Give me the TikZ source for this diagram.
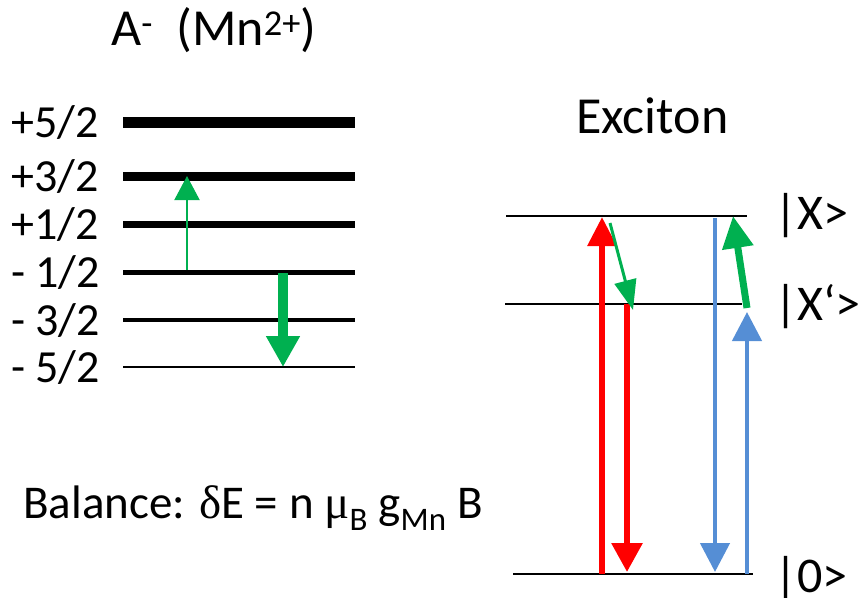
\documentclass[tikz,border=0pt]{standalone}
\usepackage{fontspec}
\setmainfont{Carlito}
\newfontfamily\grk{Liberation Serif}
\usetikzlibrary{arrows.meta}
\definecolor{ogreen}{RGB}{0,176,80}
\definecolor{oblue}{RGB}{85,142,213}
\tikzset{
  lvl/.style={draw=black},
  lbl/.style={anchor=base west,inner sep=0pt,font=\fontsize{46}{46}\selectfont},
  big/.style={anchor=base west,inner sep=0pt,font=\fontsize{52}{52}\selectfont},
  st/.style={anchor=base west,inner sep=0pt,font=\fontsize{50}{50}\selectfont},
  tip/.style n args={2}{-{Triangle[width=#1pt,length=#2pt]}}
}
\begin{document}
\begin{tikzpicture}[x=1pt,y=-1pt]
\useasboundingbox (0,0) rectangle (858,597);
% title
\node[big] (title) at (111,45) {A\textsuperscript{-}\hspace{0.45em}(Mn\textsuperscript{2+})};
% Mn levels
\foreach \nm/\yy/\lw/\tx in {l5/122/11/{+5/2}, l3/176/9/{+3/2}, l1/224/7/{+1/2}, m1/272/5/{- 1/2}, m3/320/3.5/{- 3/2}, m5/367/1.5/{- 5/2}}{
  \coordinate (\nm a) at (123,\yy);
  \coordinate (\nm b) at (355,\yy);
  \draw[lvl,line width=\lw pt] (\nm a) -- (\nm b);
  \node[lbl] (\nm t) at (11,\yy+15) {\tx};
}
% Mn arrows
\coordinate (g1s) at (187,270); \coordinate (g1e) at (187,176);
\coordinate (g2s) at (283,273); \coordinate (g2e) at (283,367);
\draw[ogreen,line width=2pt,tip={25}{24}] (g1s) -- (g1e);
\draw[ogreen,line width=10pt,tip={32}{31}] (g2s) -- (g2e);
% exciton
\node[big] (exc) at (576,133) {Exciton};
\coordinate (xa) at (506,216); \coordinate (xb) at (747,216);
\coordinate (ya) at (505,304); \coordinate (yb) at (742,304);
\coordinate (za) at (513,574); \coordinate (zb) at (753,574);
\draw[line width=2pt] (xa) -- (xb);
\draw[line width=2pt] (ya) -- (yb);
\draw[line width=2.5pt] (za) -- (zb);
\node[st] (xl) at (774,229) {|X>};
\node[st] (yl) at (774,320) {|X‘>};
\node[st] (zl) at (774,592) {|0>};
% exciton arrows
\coordinate (r1s) at (602,574); \coordinate (r1e) at (602,217);
\coordinate (r2s) at (627,304); \coordinate (r2e) at (627,572);
\coordinate (b1s) at (715,218); \coordinate (b1e) at (715,572);
\coordinate (b2s) at (747,574); \coordinate (b2e) at (747,312);
\coordinate (g3s) at (610,223); \coordinate (g3e) at (633,310);
\coordinate (g4s) at (747,308); \coordinate (g4e) at (733,216);
\draw[red,line width=6pt,tip={28}{29}] (r1s) -- (r1e);
\draw[red,line width=6pt,tip={30}{29}] (r2s) -- (r2e);
\draw[oblue,line width=4.5pt,tip={29}{29}] (b1s) -- (b1e);
\draw[oblue,line width=4.5pt,tip={29}{29}] (b2s) -- (b2e);
\draw[ogreen,line width=3pt,tip={22}{30}] (g3s) -- (g3e);
\draw[ogreen,line width=7pt,tip={30}{32}] (g4s) -- (g4e);
% balance
\node[anchor=base west,inner sep=0pt,font=\fontsize{47}{47}\selectfont] (bal) at (23,518)
  {Balance: {\grk δ}E = n {\grk μ}\textsubscript{B} g\textsubscript{Mn} B};
\end{tikzpicture}
\end{document}
